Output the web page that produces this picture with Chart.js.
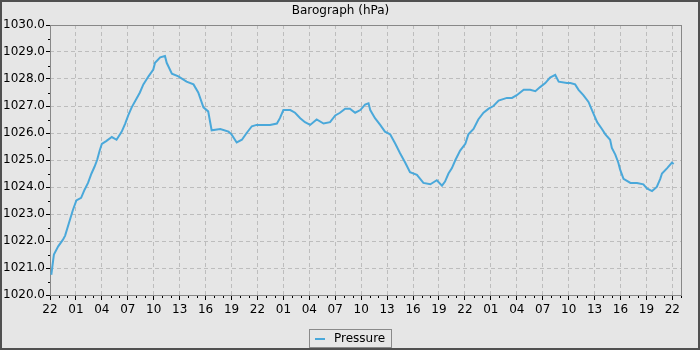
<!DOCTYPE html>
<html lang="en">
<head>
    <meta charset="UTF-8" />
    <title>Barograph</title>
    <script src="https://cdn.jsdelivr.net/npm/chart.js@4.4.1/dist/chart.umd.min.js"></script>
    <style>
        body { margin: 0; background: #e6e6e6; }
        #wrap { position: relative; width: 700px; height: 350px; }
        #legendBox {
            position: absolute;
            left: 309px; top: 329px;
            width: 81px; height: 17px;
            border: 1px solid #8a8a8a;
            font: 12px 'DejaVu Sans', sans-serif;
            color: #000;
            line-height: 17px;
        }
        #legendBox span.mark {
            position: absolute; left: 5px; top: 8px;
            width: 10px; height: 2px; background: #4aa8da;
        }
        #legendBox span.txt { position: absolute; left: 24px; top: 0; }
    </style>
</head>
<body>
    <div id="wrap">
        <canvas id="baroChart"></canvas>
        <div id="legendBox"><span class="mark"></span><span class="txt">Pressure</span></div>
    </div>

    <script>
        // hours since 22:00 on the first day
        var hours = [
            0.15, 0.45, 0.95, 1.5, 1.75, 2.65, 3.05, 3.6, 4.0, 4.4, 4.8, 5.15, 5.45, 5.75, 6.0, 6.5,
            7.15, 7.7, 8.3, 8.7, 9.05, 9.45, 10.05, 10.4, 10.8, 11.4, 11.95, 12.15, 12.75, 13.3, 13.5,
            14.1, 14.85, 15.8, 16.6, 17.15, 17.75, 18.3, 18.7, 19.7, 20.65, 21.0, 21.6, 22.2, 22.75,
            23.35, 23.9, 24.7, 25.45, 26.25, 26.6, 27.0, 27.8, 28.35, 28.95, 29.5, 30.1, 30.85, 31.65,
            32.4, 33.0, 33.55, 34.15, 34.7, 35.3, 35.9, 36.45, 36.85, 37.05, 37.6, 38.2, 38.75, 39.35,
            39.95, 40.5, 41.1, 41.65, 42.45, 43.2, 44.0, 44.75, 45.35, 45.7, 46.1, 46.5, 46.9, 47.45,
            48.05, 48.4, 49.0, 49.55, 50.15, 50.75, 51.3, 51.9, 52.85, 53.45, 54.0, 54.8, 55.55, 56.15,
            56.7, 57.3, 57.85, 58.45, 58.85, 59.8, 60.2, 60.75, 61.15, 61.7, 62.3, 62.7, 63.3, 63.85,
            64.25, 64.8, 65.0, 65.4, 65.75, 65.95, 66.35, 67.15, 67.9, 68.65, 69.05, 69.65, 70.2, 70.6,
            70.8, 71.4, 71.95, 72.15
        ];
        var pressure = [
            1020.75, 1021.5, 1021.8, 1022.05, 1022.2, 1023.15, 1023.5, 1023.6, 1023.9, 1024.15, 1024.5, 1024.75, 1025.0, 1025.35, 1025.6, 1025.7,
            1025.85, 1025.75, 1026.05, 1026.35, 1026.65, 1026.95, 1027.3, 1027.5, 1027.8, 1028.1, 1028.35, 1028.6, 1028.8, 1028.85, 1028.6,
            1028.2, 1028.1, 1027.9, 1027.8, 1027.5, 1026.95, 1026.8, 1026.1, 1026.15, 1026.05, 1025.95, 1025.65, 1025.75, 1026.0,
            1026.25, 1026.3, 1026.3, 1026.3, 1026.35, 1026.55, 1026.85, 1026.85, 1026.75, 1026.55, 1026.4, 1026.3, 1026.5, 1026.35,
            1026.4, 1026.65, 1026.75, 1026.9, 1026.9, 1026.75, 1026.85, 1027.05, 1027.1, 1026.85, 1026.55, 1026.3, 1026.05, 1025.95,
            1025.6, 1025.25, 1024.9, 1024.55, 1024.45, 1024.15, 1024.1, 1024.25, 1024.05, 1024.2, 1024.5, 1024.7, 1025.0, 1025.35,
            1025.6, 1025.95, 1026.15, 1026.5, 1026.75, 1026.9, 1027.0, 1027.2, 1027.3, 1027.3, 1027.4, 1027.6, 1027.6, 1027.55,
            1027.7, 1027.85, 1028.05, 1028.15, 1027.9, 1027.85, 1027.85, 1027.8, 1027.6, 1027.4, 1027.15, 1026.85, 1026.4, 1026.15,
            1025.95, 1025.75, 1025.45, 1025.2, 1024.9, 1024.65, 1024.3, 1024.15, 1024.15, 1024.1, 1023.95, 1023.85, 1024.0, 1024.3,
            1024.5, 1024.7, 1024.9, 1024.85
        ];
        var startHour = 22;   // clock hour at x = 0
        var xMax = 73;
        var yMin = 1020, yMax = 1030;

        var points = hours.map(function (h, i) { return { x: h, y: pressure[i] }; });

        Chart.defaults.font.family = "'DejaVu Sans', sans-serif";
        Chart.defaults.font.size = 12;
        Chart.defaults.color = '#000';

        // background, plot frame, minor ticks, outer border
        var decor = {
            id: 'decor',
            beforeDraw: function (chart) {
                var ctx = chart.ctx;
                ctx.save();
                ctx.fillStyle = '#e6e6e6';
                ctx.fillRect(0, 0, chart.width, chart.height);
                ctx.restore();
            },
            beforeDatasetsDraw: function (chart) {
                var ctx = chart.ctx, a = chart.chartArea;
                var xs = chart.scales.x, ys = chart.scales.y;
                ctx.save();
                ctx.strokeStyle = '#000';
                ctx.lineWidth = 1;
                ctx.beginPath();
                for (var h = 1; h <= xMax; h++) {
                    if (h % 3 === 0) continue;
                    var px = Math.round(xs.getPixelForValue(h)) + 0.5;
                    ctx.moveTo(px, a.bottom);
                    ctx.lineTo(px, a.bottom + 3);
                }
                for (var v = yMin + 0.5; v < yMax; v += 1) {
                    var py = Math.round(ys.getPixelForValue(v)) + 0.5;
                    ctx.moveTo(a.left - 2, py);
                    ctx.lineTo(a.left, py);
                }
                ctx.stroke();
                ctx.strokeStyle = '#888';
                ctx.strokeRect(Math.round(a.left) + 0.5, Math.round(a.top) + 0.5,
                    Math.round(a.right - a.left), Math.round(a.bottom - a.top));
                ctx.restore();
            },
            afterDraw: function (chart) {
                var ctx = chart.ctx;
                ctx.save();
                ctx.strokeStyle = '#505050';
                ctx.lineWidth = 2;
                ctx.strokeRect(1, 1, chart.width - 2, chart.height - 2);
                ctx.restore();
            }
        };

        var chart = new Chart(document.getElementById('baroChart'), {
            type: 'line',
            data: {
                datasets: [{
                    label: 'Pressure',
                    data: points,
                    borderColor: '#4aa8da',
                    backgroundColor: '#4aa8da',
                    borderWidth: 2,
                    pointRadius: 0,
                    fill: false
                }]
            },
            options: {
                responsive: true,
                maintainAspectRatio: false,
                animation: false,
                devicePixelRatio: 1,
                layout: { padding: { left: 0, right: 19, top: 0, bottom: 30 } },
                plugins: {
                    legend: { display: false },
                    tooltip: { enabled: false },
                    title: {
                        display: true,
                        text: 'Barograph (hPa)',
                        color: '#000',
                        font: { size: 12, weight: 'normal' },
                        padding: { top: 4, bottom: 6.6 }
                    }
                },
                scales: {
                    x: {
                        type: 'linear',
                        min: 0,
                        max: xMax,
                        afterFit: function (s) { s.height = 25; },
                        afterBuildTicks: function (s) {
                            // one labelled tick every 3 hours
                            var t = [];
                            for (var v = 0; v <= xMax; v += 3) t.push({ value: v });
                            s.ticks = t;
                        },
                        ticks: {
                            maxRotation: 0,
                            autoSkip: false,
                            padding: 3,
                            color: '#000',
                            callback: function (v) {
                                return String((startHour + v) % 24).padStart(2, '0');
                            }
                        },
                        grid: {
                            color: '#bdbdbd',
                            tickColor: '#000',
                            tickLength: 5,
                            tickBorderDash: []
                        },
                        border: { display: false, dash: [4, 3] }
                    },
                    y: {
                        min: yMin,
                        max: yMax,
                        afterFit: function (s) { s.width = 50; },
                        ticks: {
                            stepSize: 1,
                            padding: 1,
                            color: '#000',
                            callback: function (v) { return v.toFixed(1); }
                        },
                        grid: {
                            color: '#bdbdbd',
                            tickColor: '#000',
                            tickLength: 4,
                            tickBorderDash: []
                        },
                        border: { display: false, dash: [4, 3] }
                    }
                }
            },
            plugins: [decor]
        });
    </script>
</body>
</html>
